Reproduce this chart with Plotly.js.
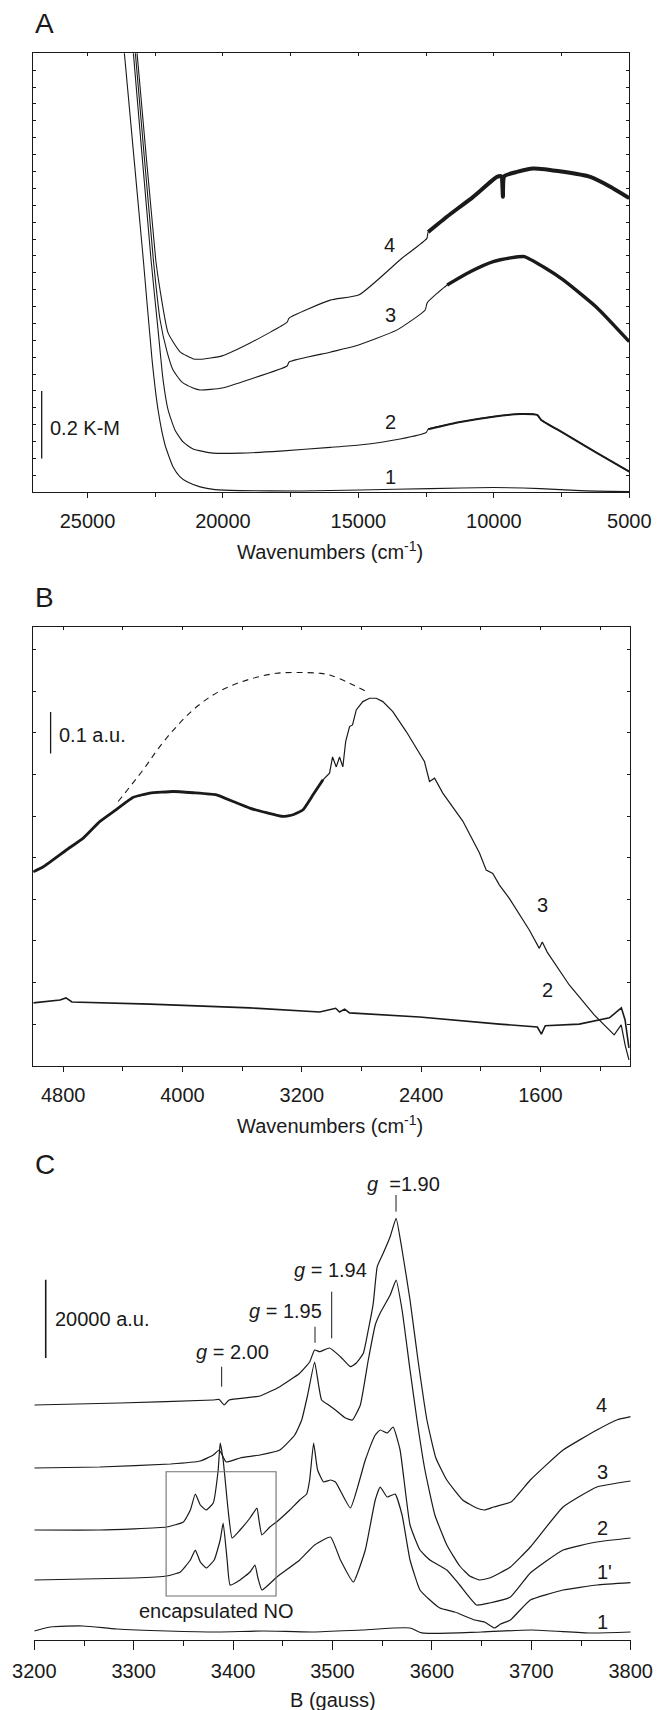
<!DOCTYPE html>
<html><head><meta charset="utf-8">
<script src="https://cdn.plot.ly/plotly-3.0.1.min.js"></script>
<style>html,body{margin:0;padding:0;background:#fff}#chart{width:658px;height:1710px}</style>
</head><body><div id="chart"></div>
<script>
// ---------- Panel A : diffuse reflectance (Kubelka-Munk) ----------
const aWn1 = [23743,23639,22938,22616,22395,22136,21840,21582,21323,20843,20289,19366,17150,14935,12350,10023,8288,6810,5001];
const aKM1 = [1.398,1.301,0.688,0.392,0.244,0.140,0.075,0.046,0.031,0.016,0.008,0.005,0.004,0.007,0.011,0.014,0.011,0.005,0.002];
const aWn2 = [23411,23307,22653,22395,22210,22025,21767,21471,21102,20363,19366,17889,16043,14972,13458,12498,12424,11242,10023,9026,8399,8251,7439,6183,5001];
const aKM2 = [1.398,1.301,0.688,0.481,0.333,0.244,0.184,0.149,0.128,0.116,0.116,0.122,0.133,0.140,0.158,0.177,0.187,0.208,0.224,0.232,0.229,0.214,0.176,0.116,0.061];
const aWn3 = [23337,23233,22568,22321,22062,21840,21520,21102,20844,20031,18997,17631,17557,16043,15120,13569,12535,12461,11722,10873,10023,9395,8878,8177,7439,6183,5001];
const aKM3 = [1.398,1.301,0.688,0.511,0.416,0.362,0.327,0.309,0.303,0.309,0.335,0.374,0.386,0.415,0.433,0.481,0.540,0.561,0.614,0.653,0.683,0.694,0.698,0.668,0.629,0.546,0.446];
const aWn4 = [23282,23170,22480,22321,22025,21582,21091,20844,20031,18997,17631,17557,16043,14972,13395,12472,12424,11733,10762,9887,9727,9665,9617,9148,8546,7439,6442,5703,5001];
const aKM4 = [1.398,1.301,0.688,0.599,0.472,0.416,0.395,0.394,0.404,0.442,0.504,0.516,0.569,0.585,0.693,0.752,0.771,0.816,0.875,0.934,0.936,0.875,0.936,0.949,0.959,0.949,0.934,0.905,0.871];
const aCurveLabels = ['4','3','2','1'];
const aLabelWn = [13850,13830,13830,13830];
const aLabelKM = [0.732,0.525,0.209,0.046];

// ---------- Panel B : IR (a.u.) ----------
const bWn3 = [5000,4933,4776,4665,4553,4442,4330,4219,4063,3929,3772,3661,3549,3437,3326,3259,3192,3125,3058,3014,2994,2969,2947,2925,2906,2880,2860,2835,2791,2746,2701,2657,2590,2500,2433,2378,2344,2310,2255,2121,2009,1964,1920,1875,1809,1675,1608,1588,1555,1407,1240,1106,1059,1033,1007];
const bAbs3 = [0.466,0.478,0.519,0.547,0.587,0.616,0.645,0.655,0.659,0.656,0.651,0.635,0.619,0.608,0.599,0.603,0.615,0.651,0.687,0.703,0.742,0.718,0.742,0.718,0.779,0.815,0.819,0.855,0.875,0.883,0.883,0.875,0.851,0.803,0.763,0.731,0.683,0.691,0.655,0.588,0.511,0.470,0.462,0.434,0.402,0.326,0.282,0.297,0.273,0.194,0.122,0.074,0.098,0.050,0.014];
const bWn2 = [5000,4821,4781,4741,4218,3549,3080,2973,2947,2913,2880,2411,1875,1621,1594,1568,1340,1138,1058,1033,1007];
const bAbs2 = [0.151,0.158,0.163,0.153,0.148,0.139,0.129,0.138,0.129,0.136,0.127,0.117,0.100,0.093,0.076,0.096,0.100,0.115,0.139,0.110,0.043];
const bWnDash = [4431,4264,4152,4040,3929,3795,3661,3527,3370,3214,3081,3014,2880,2768];
const bAbsDash = [0.635,0.711,0.767,0.815,0.855,0.891,0.915,0.931,0.943,0.945,0.943,0.939,0.919,0.899];
const bCurveLabels = ['3','2'];
const bLabelWn = [1588,1555];
const bLabelAbs = [0.387,0.182];

// ---------- Panel C : EPR (a.u.) ----------
const cB4 = [3200,3286,3380,3386,3391,3396,3427,3447,3467,3477,3482,3487,3497,3508,3518,3524,3531,3536,3541,3545,3551,3558,3564,3570,3578,3586,3595,3604,3615,3631,3645,3653,3662,3680,3699,3732,3766,3786,3800];
const cI4 = [60019,60530,61296,61424,60019,61296,62318,64693,68115,71001,74066,73632,74577,72355,69801,70746,73223,79174,85993,95341,98763,103003,107702,99606,86836,71512,56188,46483,40864,35756,33713,33202,33968,35322,40864,48526,53634,56188,57031];
const cB3 = [3200,3266,3337,3367,3380,3386,3389,3393,3407,3427,3447,3462,3469,3475,3482,3486,3489,3496,3503,3513,3520,3528,3536,3543,3548,3558,3564,3570,3578,3585,3593,3603,3615,3628,3638,3648,3658,3679,3699,3732,3766,3800];
const cI3 = [43929,44184,44950,45717,47249,48526,47249,45461,46483,47249,48526,52357,56188,62573,71001,65127,61296,60019,58742,56699,56188,60019,71512,80451,83516,88113,91944,84282,68958,56188,43418,31925,24263,18900,16346,15324,15835,18644,23752,33968,39076,40609];
const cB2 = [3200,3266,3333,3350,3357,3362,3367,3373,3380,3385,3387,3390,3395,3399,3407,3417,3424,3426,3429,3437,3444,3457,3467,3474,3477,3481,3485,3491,3498,3503,3518,3533,3543,3548,3555,3561,3568,3578,3588,3598,3615,3628,3645,3658,3679,3699,3732,3766,3800];
const cI2 = [28094,28094,28860,30137,33202,37288,34479,33202,34990,43418,50314,45972,33202,26051,28094,31159,33713,30648,26817,28860,30214,33202,35756,37288,40864,50314,43418,40353,40864,40353,33713,45972,52357,53634,52868,54400,48526,29371,22986,20432,17878,14047,8939,9450,10982,17112,22986,25029,26051];
const cB1p = [3200,3300,3333,3347,3357,3362,3367,3373,3381,3387,3390,3394,3397,3407,3417,3422,3425,3429,3444,3467,3482,3498,3508,3521,3533,3543,3548,3555,3563,3570,3578,3588,3598,3608,3623,3643,3653,3663,3669,3679,3699,3732,3766,3800];
const cI1p = [15324,15835,16346,17367,20432,22986,19921,18389,20432,25540,29882,20432,14047,15324,17367,19155,15835,12770,16090,20432,24263,26306,20432,14813,22986,35756,39076,36522,37288,31925,20432,12770,10216,8172,7151,5108,4597,3065,4086,5108,10216,12770,14047,14634];
const cB1 = [3200,3216,3249,3283,3334,3384,3430,3480,3530,3578,3590,3650,3700,3760,3800];
const cI1 = [2299,3320,3575,2809,2300,2043,2299,2043,2554,3065,1800,2043,2554,1788,2043];
const cCurveLabels = ['4','3','2',"1'",'1'];
const cLabelB = [3771,3772,3772,3774,3772];
const cLabelI = [60000,43000,28530,17440,4670];

const FONT = '"Liberation Sans", Arial, Helvetica, sans-serif';
const INK = '#1a1a1a';

function line(x, y, xa, ya, w, extra) {
  return Object.assign({type:'scatter', mode:'lines', x:x, y:y, xaxis:xa, yaxis:ya,
    line:{color:INK, width:w, shape:'spline', smoothing:0.5},
    hoverinfo:'skip', showlegend:false}, extra || {});
}
function pick(x, y, test) {
  const xs = [], ys = [];
  x.forEach((v, i) => { if (test(v)) { xs.push(v); ys.push(y[i]); } });
  return [xs, ys];
}

const traces = [];
// Panel A
traces.push(line(aWn1, aKM1, 'x', 'y', 1.1));
traces.push(line(aWn2, aKM2, 'x', 'y', 1.1));
traces.push(line(aWn3, aKM3, 'x', 'y', 1.1));
traces.push(line(aWn4, aKM4, 'x', 'y', 1.1));
let p = pick(aWn2, aKM2, v => v <= 12450); traces.push(line(p[0], p[1], 'x', 'y', 2));
p = pick(aWn3, aKM3, v => v <= 12450); traces.push(line(p[0], p[1], 'x', 'y', 3.4));
p = pick(aWn4, aKM4, v => v <= 12450); traces.push(line(p[0], p[1], 'x', 'y', 4));
// Panel B
traces.push(line(bWn3, bAbs3, 'x2', 'y2', 1.2, {line:{color:INK, width:1.2, shape:'linear'}}));
p = pick(bWn3, bAbs3, v => v >= 3050); traces.push(line(p[0], p[1], 'x2', 'y2', 2.8, {line:{color:INK, width:2.8, shape:'spline', smoothing:0.4}}));
traces.push(line(bWn2, bAbs2, 'x2', 'y2', 1.6, {line:{color:INK, width:1.6, shape:'linear'}}));
traces.push(line(bWnDash, bAbsDash, 'x2', 'y2', 1.1, {line:{color:INK, width:1.1, dash:'6px,5px', shape:'spline'}}));
// Panel C
traces.push(line(cB4, cI4, 'x3', 'y3', 1.2, {line:{color:INK, width:1.2, shape:'spline', smoothing:0.4}}));
traces.push(line(cB3, cI3, 'x3', 'y3', 1.2, {line:{color:INK, width:1.2, shape:'spline', smoothing:0.4}}));
traces.push(line(cB2, cI2, 'x3', 'y3', 1.2, {line:{color:INK, width:1.2, shape:'spline', smoothing:0.4}}));
traces.push(line(cB1p, cI1p, 'x3', 'y3', 1.2, {line:{color:INK, width:1.2, shape:'spline', smoothing:0.4}}));
traces.push(line(cB1, cI1, 'x3', 'y3', 1.2, {line:{color:INK, width:1.2, shape:'spline', smoothing:0.6}}));
// empty traces so overlay (top) axes are drawn
traces.push({type:'scatter', x:[], y:[], xaxis:'x4', yaxis:'y', showlegend:false, hoverinfo:'skip'});
traces.push({type:'scatter', x:[], y:[], xaxis:'x5', yaxis:'y2', showlegend:false, hoverinfo:'skip'});

const tickFont = {family:FONT, size:20, color:INK};
const base = {showgrid:false, zeroline:false, showline:true, linecolor:INK, linewidth:1, tickcolor:INK, tickwidth:1, tickfont:tickFont, fixedrange:true};

const layout = {
  width:658, height:1710, margin:{l:0, r:0, t:0, b:0},
  paper_bgcolor:'#ffffff', plot_bgcolor:'rgba(0,0,0,0)', showlegend:false,
  font:{family:FONT, size:20, color:INK},
  xaxis: Object.assign({}, base, {domain:[0.050608,0.956383], anchor:'y', range:[27000,5000],
    ticks:'outside', ticklen:5, dtick:5000, tick0:0, tickformat:'d', ticklabelstandoff:6,
    minor:{ticks:'outside', ticklen:4, dtick:2500, tick0:0, tickcolor:INK, showgrid:false}}),
  xaxis4: Object.assign({}, base, {overlaying:'x', anchor:'y', side:'top', range:[27000,5000],
    ticks:'inside', ticklen:3, dtick:2500, tick0:0, showticklabels:false}),
  yaxis: Object.assign({}, base, {domain:[0.712105,0.968830], anchor:'x', range:[0,1.3],
    ticks:'inside', ticklen:3, dtick:0.05, tick0:0, showticklabels:false, mirror:'ticks'}),
  xaxis2: Object.assign({}, base, {domain:[0.050608,0.957447], anchor:'y2', range:[5000,1000],
    ticks:'outside', ticklen:5, dtick:800, tick0:0, tickformat:'d', ticklabelstandoff:6,
    minor:{ticks:'outside', ticklen:4, dtick:400, tick0:0, tickcolor:INK, showgrid:false}}),
  xaxis5: Object.assign({}, base, {overlaying:'x2', anchor:'y2', side:'top', range:[5000,1000],
    ticks:'inside', ticklen:3, dtick:400, tick0:0, showticklabels:false}),
  yaxis2: Object.assign({}, base, {domain:[0.376784,0.633509], anchor:'x2', range:[0,1.055],
    ticks:'inside', ticklen:3, dtick:0.1, tick0:0, showticklabels:false, mirror:'ticks'}),
  xaxis3: Object.assign({}, base, {domain:[0.052128,0.958511], anchor:'y3', range:[3200,3800],
    ticks:'outside', ticklen:9, dtick:100, tick0:0, tickformat:'d', ticklabelstandoff:4,
    minor:{ticks:'outside', ticklen:5, dtick:50, tick0:0, tickcolor:INK, showgrid:false}}),
  yaxis3: {domain:[0.040936,0.333333], anchor:'x3', range:[0,127700], visible:false, fixedrange:true},
  shapes: [
    {type:'line', xref:'x', yref:'y', x0:26690, x1:26690, y0:0.1, y1:0.3, line:{color:INK, width:1.3}},
    {type:'line', xref:'x2', yref:'y2', x0:4884, x1:4884, y0:0.75, y1:0.85, line:{color:INK, width:1.3}},
    {type:'line', xref:'x3', yref:'y3', x0:3211.5, x1:3211.5, y0:72000, y1:92000, line:{color:INK, width:1.6}},
    {type:'line', xref:'x3', yref:'y3', x0:3388.5, x1:3388.5, y0:64700, y1:69800, line:{color:INK, width:1}},
    {type:'line', xref:'x3', yref:'y3', x0:3482.4, x1:3482.4, y0:75900, y1:80000, line:{color:INK, width:1}},
    {type:'line', xref:'x3', yref:'y3', x0:3499.2, x1:3499.2, y0:77050, y1:88950, line:{color:INK, width:1}},
    {type:'line', xref:'x3', yref:'y3', x0:3563.9, x1:3563.9, y0:109400, y1:113650, line:{color:INK, width:1}},
    {type:'rect', xref:'x3', yref:'y3', x0:3332.6, x1:3443.2, y0:11238, y1:42985, line:{color:'#707070', width:1.1}}
  ],
  annotations: []
};

const ann = layout.annotations;
function txt(text, xref, yref, x, y, xa, ya, size) {
  ann.push({text:text, xref:xref, yref:yref, x:x, y:y, xanchor:xa||'center', yanchor:ya||'middle',
    showarrow:false, font:{family:FONT, size:size||20, color:INK}});
}
// panel letters
txt('A', 'paper', 'paper', 33/658, 1-23/1710, 'left', 'middle', 28);
txt('B', 'paper', 'paper', 33/658, 1-597/1710, 'left', 'middle', 28);
txt('C', 'paper', 'paper', 33/658, 1-1164/1710, 'left', 'middle', 28);
// axis titles
txt('Wavenumbers (cm<sup>-1</sup>)', 'paper', 'paper', 330/658, 1-550/1710);
txt('Wavenumbers (cm<sup>-1</sup>)', 'paper', 'paper', 330/658, 1-1124/1710);
txt('B (gauss)', 'paper', 'paper', 333/658, 1-1700/1710);
// panel A
aCurveLabels.forEach((t, i) => txt(t, 'x', 'y', aLabelWn[i], aLabelKM[i]));
txt('0.2 K-M', 'x', 'y', 26446, 0.1895, 'left');
// panel B
bCurveLabels.forEach((t, i) => txt(t, 'x2', 'y2', bLabelWn[i], bLabelAbs[i]));
txt('0.1 a.u.', 'x2', 'y2', 4839, 0.795, 'left');
// panel C
cCurveLabels.forEach((t, i) => txt(t, 'x3', 'y3', cLabelB[i], cLabelI[i]));
txt('20000 a.u.', 'x3', 'y3', 3219, 81980, 'left');
txt('<i>g</i> = 2.00', 'x3', 'y3', 3399.4, 73632);
txt('<i>g</i> = 1.95', 'x3', 'y3', 3453.0, 84078);
txt('<i>g</i> = 1.94', 'x3', 'y3', 3498.3, 94498);
txt('<i>g</i>\u00a0\u00a0=1.90', 'x3', 'y3', 3571.2, 116540);
txt('encapsulated NO', 'x3', 'y3', 3383.5, 7400);

Plotly.newPlot('chart', traces, layout, {staticPlot:true, displayModeBar:false});
</script></body></html>
